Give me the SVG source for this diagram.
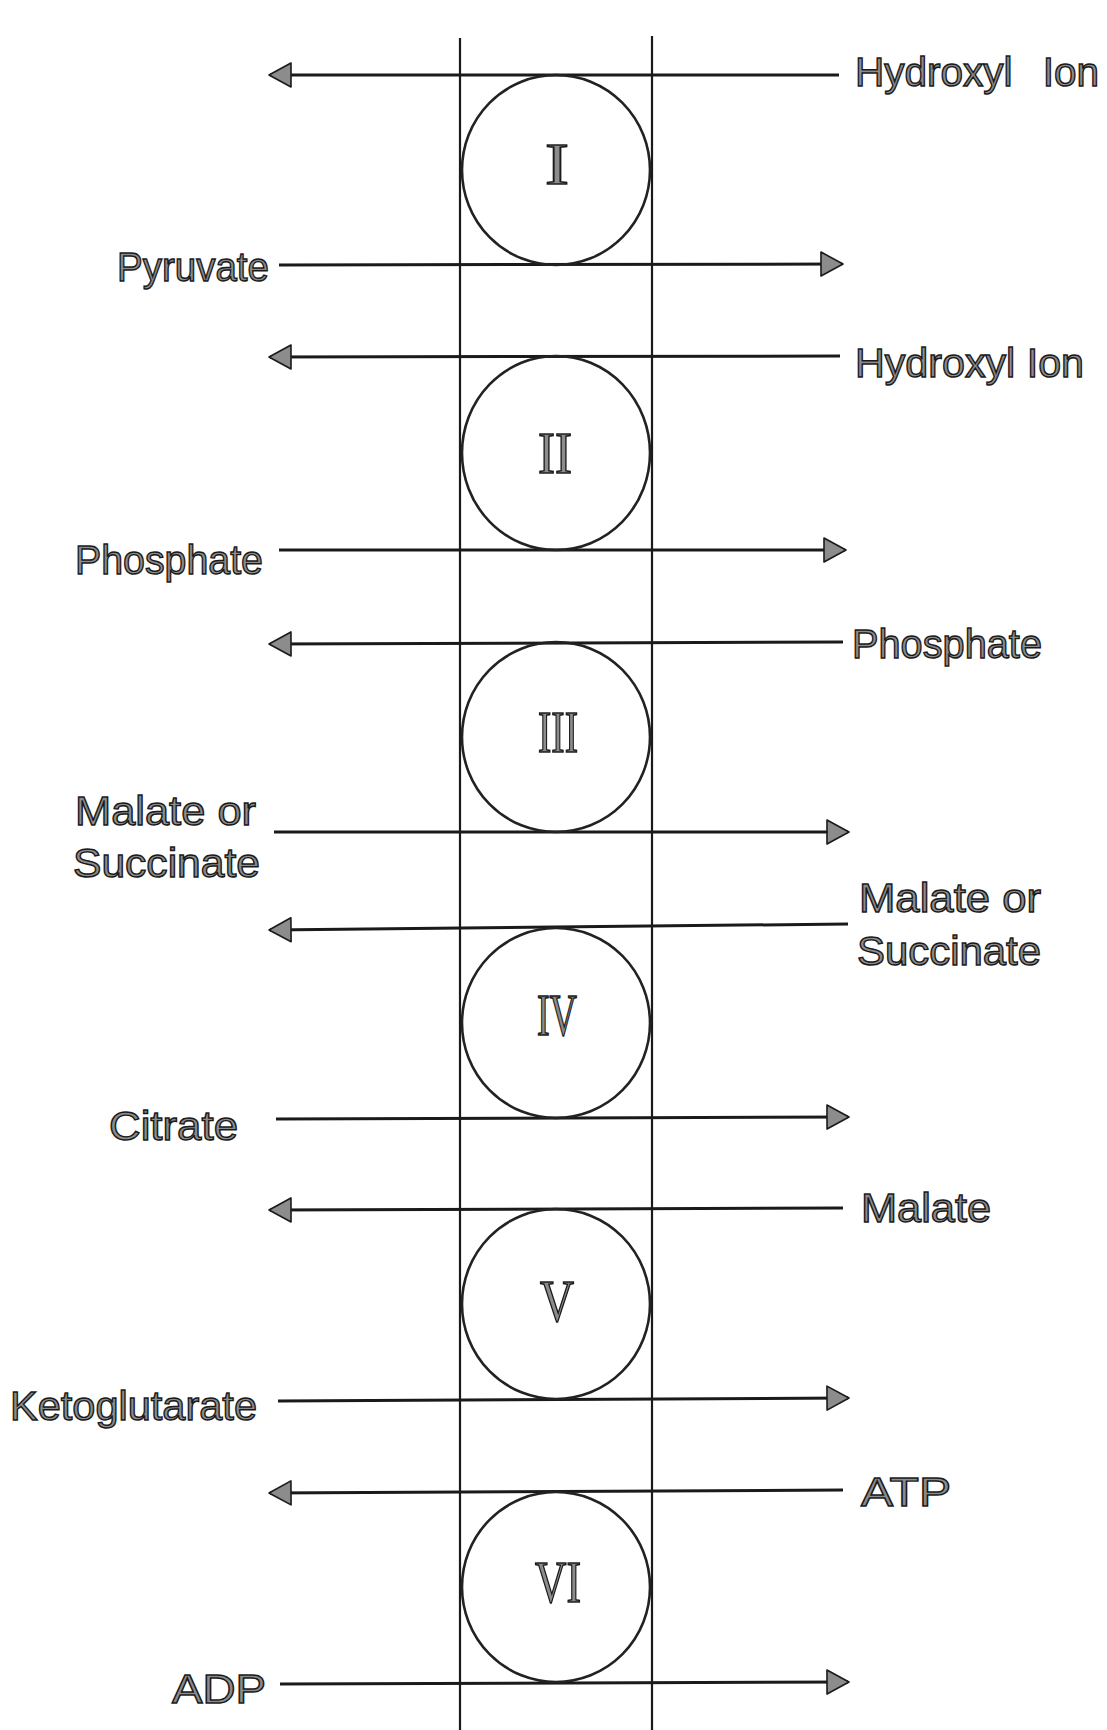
<svg xmlns="http://www.w3.org/2000/svg" width="1107" height="1730" viewBox="0 0 1107 1730">
<style>
.bg{fill:#fff}
.v{stroke:#1a1a1a;stroke-width:2.2;fill:none}
.h{stroke:#1a1a1a;stroke-width:3;fill:none}
.c{stroke:#222;stroke-width:2.6;fill:none}
.lbl{font-family:"Liberation Sans",Arial,sans-serif;font-size:41px;fill:#8c8c8c;stroke:#1a1a1a;stroke-width:1.4}
.num{font-family:"Liberation Serif","Times New Roman",serif;font-size:59px;fill:#8c8c8c;stroke:#1a1a1a;stroke-width:1.6;text-anchor:middle}
</style>
<defs>
<marker id="ah" viewBox="0 0 24 26" refX="22" refY="13" markerWidth="24" markerHeight="26" markerUnits="userSpaceOnUse" orient="auto">
<path d="M1,1 L23,13 L1,25 Z" fill="#8c8c8c" stroke="#1a1a1a" stroke-width="1.6" stroke-linejoin="round"/>
</marker>
</defs>
<rect class="bg" x="0" y="0" width="1107" height="1730"/>
<g id="membrane">
<line class="v" x1="460" y1="38" x2="460" y2="1730"/>
<line class="v" x1="652" y1="36" x2="652" y2="1730"/>
</g>
<g id="connectors">
<line class="h" x1="839" y1="75" x2="270" y2="75" marker-end="url(#ah)"/>
<line class="h" x1="279" y1="265" x2="842" y2="264" marker-end="url(#ah)"/>
<line class="h" x1="840" y1="356" x2="270" y2="357" marker-end="url(#ah)"/>
<line class="h" x1="279" y1="550" x2="845" y2="550" marker-end="url(#ah)"/>
<line class="h" x1="843" y1="642" x2="270" y2="644" marker-end="url(#ah)"/>
<line class="h" x1="274" y1="832" x2="848" y2="832" marker-end="url(#ah)"/>
<line class="h" x1="848" y1="924" x2="270" y2="930" marker-end="url(#ah)"/>
<line class="h" x1="276" y1="1119" x2="848" y2="1117" marker-end="url(#ah)"/>
<line class="h" x1="843" y1="1208" x2="270" y2="1210" marker-end="url(#ah)"/>
<line class="h" x1="278" y1="1401" x2="848" y2="1398" marker-end="url(#ah)"/>
<line class="h" x1="843" y1="1490" x2="270" y2="1493" marker-end="url(#ah)"/>
<line class="h" x1="280" y1="1684" x2="848" y2="1682" marker-end="url(#ah)"/>
</g>
<g id="carrier-I">
<ellipse class="c" cx="556" cy="170" rx="94" ry="95"/>
<text class="num" x="557" y="184" textLength="24" lengthAdjust="spacingAndGlyphs">I</text>
</g>
<g id="carrier-II">
<ellipse class="c" cx="556" cy="453" rx="94" ry="97"/>
<text class="num" x="555" y="473" textLength="34" lengthAdjust="spacingAndGlyphs">II</text>
</g>
<g id="carrier-III">
<ellipse class="c" cx="556" cy="737" rx="94" ry="95"/>
<text class="num" x="558" y="752" textLength="40" lengthAdjust="spacingAndGlyphs">III</text>
</g>
<g id="carrier-IV">
<ellipse class="c" cx="556" cy="1023" rx="94" ry="95"/>
<text class="num" x="557" y="1035" textLength="40" lengthAdjust="spacingAndGlyphs">IV</text>
</g>
<g id="carrier-V">
<ellipse class="c" cx="556" cy="1304" rx="94" ry="95"/>
<text class="num" x="557" y="1321" textLength="34" lengthAdjust="spacingAndGlyphs">V</text>
</g>
<g id="carrier-VI">
<ellipse class="c" cx="556" cy="1587" rx="94" ry="95"/>
<text class="num" x="558" y="1602" textLength="46" lengthAdjust="spacingAndGlyphs">VI</text>
</g>
<g id="labels-right">
<text class="lbl" x="855" y="86" word-spacing="19" textLength="244" lengthAdjust="spacingAndGlyphs">Hydroxyl Ion</text>
<text class="lbl" x="855" y="377" textLength="229" lengthAdjust="spacingAndGlyphs">Hydroxyl Ion</text>
<text class="lbl" x="852" y="658" textLength="190" lengthAdjust="spacingAndGlyphs">Phosphate</text>
<text class="lbl" x="859" y="912" textLength="182" lengthAdjust="spacingAndGlyphs">Malate or</text>
<text class="lbl" x="857" y="965" textLength="184" lengthAdjust="spacingAndGlyphs">Succinate</text>
<text class="lbl" x="861" y="1222" textLength="130" lengthAdjust="spacingAndGlyphs">Malate</text>
<text class="lbl" x="861" y="1506" textLength="90" lengthAdjust="spacingAndGlyphs">ATP</text>
</g>
<g id="labels-left">
<text class="lbl" x="269" y="281" text-anchor="end" textLength="152" lengthAdjust="spacingAndGlyphs">Pyruvate</text>
<text class="lbl" x="263" y="574" text-anchor="end" textLength="188" lengthAdjust="spacingAndGlyphs">Phosphate</text>
<text class="lbl" x="75" y="825" textLength="181" lengthAdjust="spacingAndGlyphs">Malate or</text>
<text class="lbl" x="73" y="877" textLength="187" lengthAdjust="spacingAndGlyphs">Succinate</text>
<text class="lbl" x="238" y="1140" text-anchor="end" textLength="129" lengthAdjust="spacingAndGlyphs">Citrate</text>
<text class="lbl" x="257" y="1420" text-anchor="end" textLength="247" lengthAdjust="spacingAndGlyphs">Ketoglutarate</text>
<text class="lbl" x="266" y="1703" text-anchor="end" textLength="94" lengthAdjust="spacingAndGlyphs">ADP</text>
</g>
</svg>
